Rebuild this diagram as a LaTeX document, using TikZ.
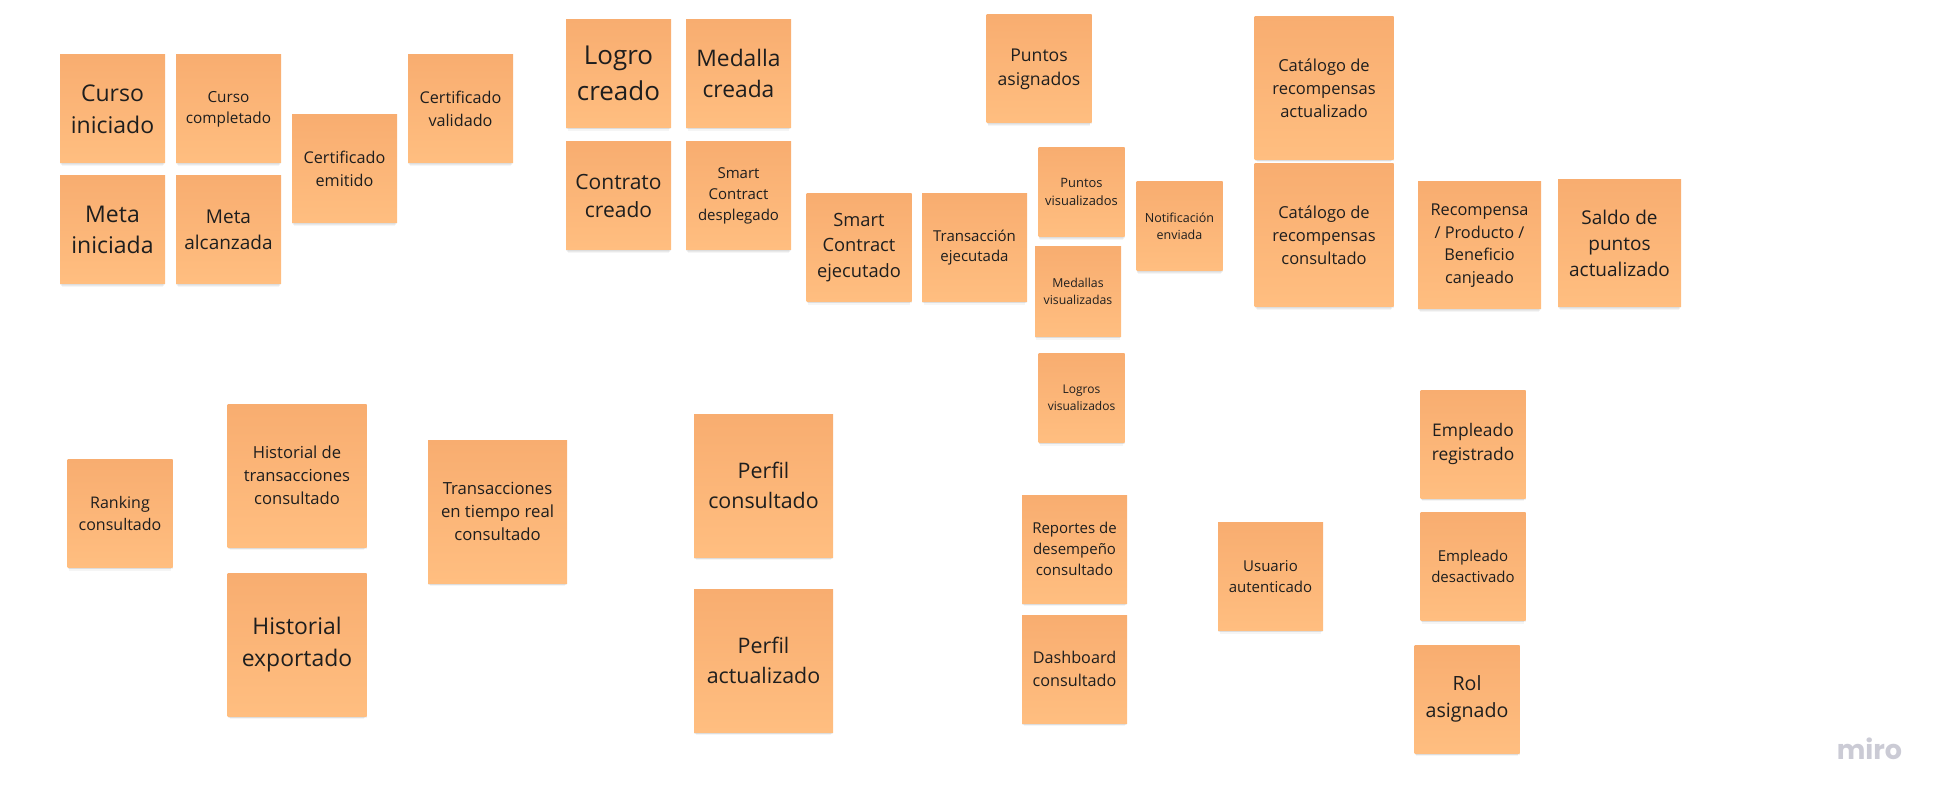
\documentclass[tikz,border=0pt]{standalone}
\usepackage{fontspec}
\setmainfont{Open Sans}
\newfontfamily\logofont{Poppins}
\usetikzlibrary{shadows}
\definecolor{noteTop}{HTML}{F8AD70}
\definecolor{noteBot}{HTML}{FFBE80}
\definecolor{noteText}{HTML}{1E1E1E}
\definecolor{logoGrey}{HTML}{CBCBD5}
\newcommand\notesize[1]{\fontsize{#1}{\fpeval{1.38*#1}}\selectfont}
\tikzset{
  note/.style={rectangle,inner sep=0pt,align=center,text=noteText,
    top color=noteTop,bottom color=noteBot,
    minimum width=105pt,minimum height=108pt,
    drop shadow={shadow xshift=0pt,shadow yshift=-5pt,shadow scale=.97,opacity=.04,fill=black},
    drop shadow={shadow xshift=0pt,shadow yshift=-3pt,shadow scale=.98,opacity=.05,fill=black},
    drop shadow={shadow xshift=0pt,shadow yshift=-1.5pt,opacity=.05,fill=black}},
  big/.style={minimum width=139pt,minimum height=143pt},
  mid/.style={minimum width=123pt,minimum height=127pt},
  small/.style={minimum width=86pt,minimum height=89pt},
  fs/.style={font=\notesize{#1}}
}
\begin{document}
\begin{tikzpicture}[x=1pt,y=-1pt]
    \useasboundingbox (0,0) rectangle (1946,802);
    \node[note,fs=23]   (cursoIni)  at (112.5,109) {Curso\\iniciado};
    \node[note,fs=15.3] (cursoComp) at (228.5,109) {Curso\\completado};
    \node[note,fs=23]   (metaIni)   at (112.5,230) {Meta\\iniciada};
    \node[note,fs=19]   (metaAlc)   at (228.5,230) {Meta\\alcanzada};
    \node[note,fs=16.2] (certEmit)  at (344.5,169) {Certificado\\emitido};
    \node[note,fs=16.2] (certVal)   at (460.5,109) {Certificado\\validado};
    \node[note,fs=26]   (logro)     at (618.5,73.5) {Logro\\creado};
    \node[note,fs=22.8] (medalla)   at (738.5,73.5) {Medalla\\creada};
    \node[note,fs=21]   (contrato)  at (618.5,196) {Contrato\\creado};
    \node[note,fs=15]   (scDesp)    at (738.5,196) {Smart\\Contract\\desplegado};
    \node[note,fs=18.3] (scEjec)    at (859,247.5) {Smart\\Contract\\ejecutado};
    \node[note,fs=15]   (transEjec) at (974.5,247.5) {Transacción\\ejecutada};
    \node[note,fs=17.6] (ptsAsig)   at (1039,69) {Puntos\\asignados};
    \node[note,small,fs=12.9] (ptsVis) at (1081.5,192) {Puntos\\visualizados};
    \node[note,small,fs=12.3] (medVis) at (1078,291.5) {Medallas\\visualizadas};
    \node[note,small,fs=12.5] (notif)  at (1179.5,226) {Notificación\\enviada};
    \node[note,small,fs=12]   (logVis) at (1081.5,397.5) {Logros\\visualizados};
    \node[note,big,fs=16.5] (catAct)  at (1324,88) {Catálogo de\\recompensas\\actualizado};
    \node[note,big,fs=16.5] (catCons) at (1324,235.5) {Catálogo de\\recompensas\\consultado};
    \node[note,mid,fs=16.3] (recomp)  at (1479.5,245.5) {Recompensa\\/ Producto /\\Beneficio\\canjeado};
    \node[note,mid,fs=19]   (saldo)   at (1619.5,243.5) {Saldo de\\puntos\\actualizado};
    \node[note,fs=16]       (ranking) at (120,513.5) {Ranking\\consultado};
    \node[note,big,fs=16.6] (histCons) at (297,475.5) {Historial de\\transacciones\\consultado};
    \node[note,big,fs=22.9] (histExp)  at (297,644.5) {Historial\\exportado};
    \node[note,big,fs=16.7] (tiempoReal) at (497.5,511.5) {Transacciones\\en tiempo real\\consultado};
    \node[note,big,fs=21.4] (perfCons) at (763.5,485.5) {Perfil\\consultado};
    \node[note,big,fs=21.4] (perfAct)  at (763.5,660.5) {Perfil\\actualizado};
    \node[note,fs=15]   (reportes)  at (1074.5,549) {Reportes de\\desempeño\\consultado};
    \node[note,fs=16.2] (dashboard) at (1074.5,669) {Dashboard\\consultado};
    \node[note,fs=15]   (usuario)   at (1270.5,576.5) {Usuario\\autenticado};
    \node[note,fs=17.4] (empReg)    at (1473,444) {Empleado\\registrado};
    \node[note,fs=15]   (empDes)    at (1473,566.5) {Empleado\\desactivado};
    \node[note,fs=19.6] (rol)       at (1467,699) {Rol\\asignado};
    \node[anchor=base,inner sep=0pt,text=logoGrey,font=\logofont\bfseries\fontsize{27}{30}\selectfont] (miro) at (1869.5,759) {miro};
\end{tikzpicture}
\end{document}
